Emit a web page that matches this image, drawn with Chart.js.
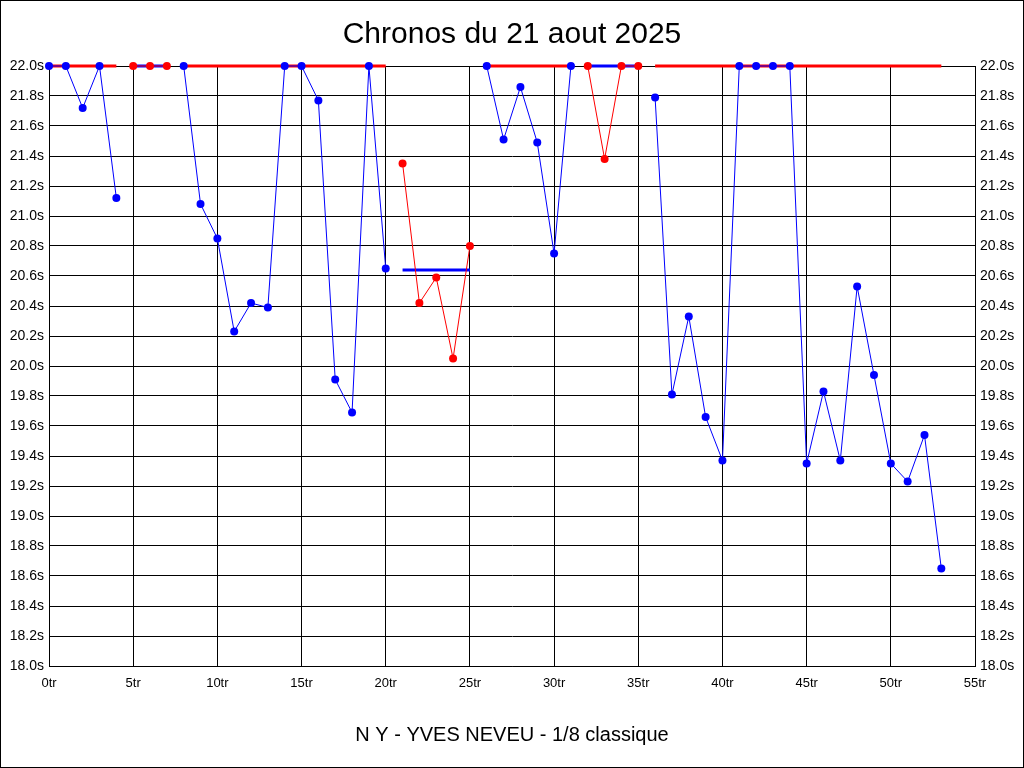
<!DOCTYPE html>
<html>
<head>
<meta charset="utf-8">
<title>Chronos du 21 aout 2025</title>
<script src="https://cdn.jsdelivr.net/npm/chart.js@4.4.1/dist/chart.umd.min.js"></script>
<style>
  html, body { margin: 0; padding: 0; background: #fff; }
  #wrap { width: 1024px; height: 768px; }
</style>
</head>
<body>
<div id="wrap"><canvas id="chronos" width="1024" height="768"></canvas></div>
<script>
// lap times (s) per tour, values at the top are shown capped at 22.0s
const chronos = [
  22.0, 22.0, 21.72, 22.0, 21.12,
  22.0, 22.0, 22.0,
  22.0, 21.08, 20.85, 20.23, 20.42, 20.39, 22.0, 22.0, 21.77, 19.91, 19.69, 22.0, 20.65,
  21.35, 20.42, 20.59, 20.05, 20.80,
  22.0, 21.51, 21.86, 21.49, 20.75, 22.0,
  22.0, 21.38, 22.0, 22.0,
  21.79, 19.81, 20.33, 19.66, 19.37, 22.0, 22.0, 22.0, 22.0, 19.35, 19.83, 19.37, 20.53, 19.94, 19.35, 19.23, 19.54, 18.65
];
// runs (first / last tour), colour of the points, and the average drawn over each run
const segStart = [0, 5, 8, 21, 26, 32, 36];
const segEnd   = [4, 7, 20, 25, 31, 35, 53];
const segColor = ["blue", "red", "blue", "red", "blue", "red", "blue"];
const segAvg   = [22.0, 22.0, 22.0, 20.64, 22.0, 22.0, 22.0];

const xTicks = [0, 5, 10, 15, 20, 25, 30, 35, 40, 45, 50, 55];

const COL = { blue: "#0000ff", red: "#ff0000" };
const other = c => (c === "blue" ? "red" : "blue");

Chart.defaults.color = "#000";
Chart.defaults.font.family = "'Liberation Sans', Arial, sans-serif";

const datasets = [];
segStart.forEach((s, i) => {
  const pts = [];
  for (let t = s; t <= segEnd[i]; t++) pts.push({ x: t, y: chronos[t] });
  datasets.push({
    data: pts,
    borderColor: COL[segColor[i]],
    backgroundColor: COL[segColor[i]],
    borderWidth: 1,
    pointRadius: 4,
    pointHoverRadius: 4,
    pointBorderWidth: 0,
    tension: 0,
    order: 1
  });
  datasets.push({
    data: [{ x: s, y: segAvg[i] }, { x: segEnd[i], y: segAvg[i] }],
    borderColor: COL[other(segColor[i])],
    borderWidth: 3,
    borderCapStyle: "butt",
    pointRadius: 0,
    order: 2
  });
});

const frame = {
  id: "frame",
  beforeDraw(chart) {
    const c = chart.ctx;
    c.save();
    c.fillStyle = "#fff";
    c.fillRect(0, 0, chart.width, chart.height);
    c.restore();
  },
  afterDraw(chart) {
    const c = chart.ctx;
    c.save();
    c.strokeStyle = "#000";
    c.lineWidth = 1;
    c.strokeRect(0.5, 0.5, chart.width - 1, chart.height - 1);
    c.restore();
  }
};

const yTickFmt = v => Number(v).toFixed(1) + "s";

new Chart(document.getElementById("chronos"), {
  type: "line",
  data: { datasets },
  plugins: [frame],
  options: {
    responsive: false,
    animation: false,
    clip: false,
    layout: { padding: 0 },
    plugins: {
      legend: { display: false },
      tooltip: { enabled: false },
      title: {
        display: true,
        text: "Chronos du 21 aout 2025",
        font: { size: 30, weight: "normal" },
        color: "#000",
        padding: { top: 17, bottom: 13 }
      },
      subtitle: {
        display: true,
        position: "bottom",
        text: "N Y - YVES NEVEU - 1/8 classique",
        font: { size: 20, weight: "normal" },
        color: "#000",
        padding: { top: 23, bottom: 21 }
      }
    },
    scales: {
      x: {
        type: "linear",
        min: 0,
        max: 55,
        afterBuildTicks: sc => { sc.ticks = xTicks.map(v => ({ value: v })); },
        afterFit: sc => { sc.height = 34; },
        grid: { color: "#000", lineWidth: 1, drawTicks: false },
        border: { color: "#000", width: 1 },
        ticks: {
          padding: 10,
          maxRotation: 0,
          font: { size: 13, family: "'Liberation Sans Narrow', 'Liberation Sans', Arial, sans-serif" },
          callback: v => v + "tr"
        }
      },
      y: {
        position: "left",
        min: 18,
        max: 22,
        afterFit: sc => { sc.width = 49; },
        grid: { color: "#000", lineWidth: 1, drawTicks: false },
        border: { color: "#000", width: 1 },
        ticks: { stepSize: 0.2, padding: 5, font: { size: 14 }, callback: yTickFmt }
      },
      y2: {
        position: "right",
        min: 18,
        max: 22,
        afterFit: sc => { sc.width = 49; },
        grid: { display: false, drawTicks: false },
        border: { color: "#000", width: 1 },
        ticks: { stepSize: 0.2, padding: 5, font: { size: 14 }, callback: yTickFmt }
      }
    }
  }
});
</script>
</body>
</html>
